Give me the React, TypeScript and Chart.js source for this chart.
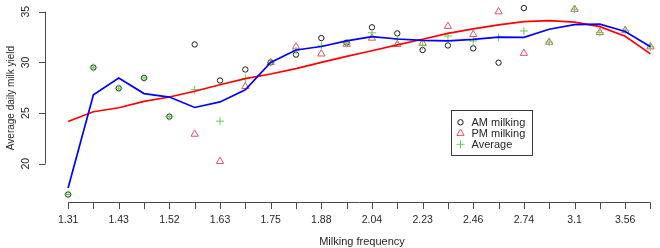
import React, { useEffect, useRef } from "react";
import { Chart, registerables } from "chart.js";
import { drawPoint } from "chart.js/helpers";

Chart.register(...registerables);

// Milking frequency classes (evenly spaced on the axis); every other one is labelled
const frequencies = [
  "1.31", "1.37", "1.43", "1.47", "1.52", "1.57", "1.63", "1.69", "1.75", "1.81", "1.88", "1.96",
  "2.04", "2.13", "2.23", "2.34", "2.46", "2.59", "2.74", "2.91", "3.1", "3.31", "3.56", "3.85",
];

const yTicks = [20, 25, 30, 35];

// null = no record for that milking in the class
const amMilking = [
  16.96, 29.49, 27.44, 28.46, 24.65, 31.77, 28.21, 29.3, 30.0, 30.77, 32.4, 31.95,
  33.46, 32.86, 31.22, 31.67, 31.38, 29.97, 35.36, null, null, null, null, null,
];

const pmMilking = [
  null, null, null, null, null, 22.92, 20.23, 27.63, 30.0, 31.54, 30.84, 31.8,
  32.4, 31.77, 31.9, 33.56, 32.76, 35.0, 30.9, 32.0, 35.25, 32.95, 33.17, 31.54,
];

const averageMilking = [
  16.96, 29.49, 27.44, 28.46, 24.65, 27.3, 24.2, 28.43, 30.0, 31.15, 31.63, 31.88,
  32.92, 32.3, 31.67, 32.6, 32.12, 32.47, 33.1, 32.0, 35.25, 32.95, 33.17, 31.54,
];

// Smoothed curves through the average yield
const smoothBlue = [
  17.6, 26.8, 28.46, 26.92, 26.58, 25.55, 26.1, 27.3, 30.0, 31.22, 31.57, 32.12,
  32.54, 32.31, 32.18, 32.12, 32.28, 32.5, 32.47, 33.27, 33.72, 33.78, 33.05, 31.54,
];

const trendRed = [
  24.17, 25.13, 25.52, 26.15, 26.58, 27.15, 27.79, 28.4, 28.85, 29.39, 30.0, 30.6,
  31.15, 31.73, 32.28, 32.86, 33.3, 33.7, 34.02, 34.13, 33.97, 33.53, 32.58, 30.84,
];

const FONT = '"Liberation Sans", Arial, Helvetica, sans-serif';
const AXIS_COLOR = "#4a4a4a";
const TEXT_COLOR = "#262626";

const toXY = (values: (number | null)[]) => values.map((v, i) => ({ x: i, y: v }));

// R-style axes, titles and boxed legend
const baseGraphics = {
  id: "baseGraphics",
  afterDraw(chart: any) {
    const { ctx, chartArea, scales } = chart;
    const xs = scales.x;
    const ys = scales.y;
    ctx.save();
    ctx.strokeStyle = AXIS_COLOR;
    ctx.lineWidth = 1;
    ctx.fillStyle = TEXT_COLOR;

    // x axis
    const xb = Math.round(chartArea.bottom) + 0.5;
    ctx.beginPath();
    ctx.moveTo(xs.getPixelForValue(0), xb);
    ctx.lineTo(xs.getPixelForValue(frequencies.length - 1), xb);
    frequencies.forEach((_, i) => {
      const px = Math.round(xs.getPixelForValue(i)) + 0.5;
      ctx.moveTo(px, xb);
      ctx.lineTo(px, xb + 6.5);
    });
    ctx.stroke();
    ctx.font = `10.5px ${FONT}`;
    ctx.textAlign = "center";
    ctx.textBaseline = "middle";
    frequencies.forEach((f, i) => {
      if (i % 2 === 0) ctx.fillText(f, xs.getPixelForValue(i), 220.5);
    });
    ctx.font = `11px ${FONT}`;
    ctx.fillText("Milking frequency", 362, 241.5);

    // y axis
    const yl = Math.round(chartArea.left) + 0.5;
    ctx.beginPath();
    ctx.moveTo(yl, ys.getPixelForValue(yTicks[0]));
    ctx.lineTo(yl, ys.getPixelForValue(yTicks[yTicks.length - 1]));
    yTicks.forEach((t) => {
      const py = Math.round(ys.getPixelForValue(t)) + 0.5;
      ctx.moveTo(yl, py);
      ctx.lineTo(yl - 6.5, py);
    });
    ctx.stroke();
    ctx.font = `10.5px ${FONT}`;
    yTicks.forEach((t) => {
      ctx.save();
      ctx.translate(26.5, ys.getPixelForValue(t));
      ctx.rotate(-Math.PI / 2);
      ctx.fillText(String(t), 0, 0);
      ctx.restore();
    });
    ctx.save();
    ctx.font = `10px ${FONT}`;
    ctx.translate(11.5, 98);
    ctx.rotate(-Math.PI / 2);
    ctx.fillText("Average daily milk yield", 0, 0);
    ctx.restore();

    // legend box
    const box = { left: 451.5, top: 110.5, right: 532.5, bottom: 155.5 };
    ctx.strokeStyle = "#3a3a3a";
    ctx.strokeRect(box.left, box.top, box.right - box.left, box.bottom - box.top);
    ctx.font = `11px ${FONT}`;
    ctx.textAlign = "left";
    const legendSets = chart.data.datasets.filter((d: any) => d.inLegend);
    legendSets.forEach((d: any, k: number) => {
      const cy = 122.3 + k * 11;
      ctx.strokeStyle = d.borderColor;
      ctx.fillStyle = "rgba(0,0,0,0)";
      ctx.lineWidth = 1;
      drawPoint(ctx, { pointStyle: d.pointStyle, radius: d.pointRadius, rotation: 0, borderWidth: 1 }, 460.5, cy);
      ctx.fillStyle = TEXT_COLOR;
      ctx.fillText(d.label, 471.5, cy + 0.5);
    });
    ctx.restore();
  },
};

export default function App() {
  const canvasRef = useRef<HTMLCanvasElement | null>(null);

  useEffect(() => {
    const canvas = canvasRef.current;
    if (!canvas) return;
    const pointSet = (label: string, values: (number | null)[], color: string, style: string, radius: number, order: number) => ({
      type: "scatter" as const,
      label,
      data: toXY(values),
      showLine: false,
      pointStyle: style,
      pointRadius: radius,
      pointBorderWidth: 1,
      borderColor: color,
      pointBorderColor: color,
      backgroundColor: "rgba(0,0,0,0)",
      pointBackgroundColor: "rgba(0,0,0,0)",
      order,
      clip: false,
      inLegend: true,
    });
    const lineSet = (label: string, values: number[], color: string, order: number) => ({
      type: "line" as const,
      label,
      data: toXY(values),
      borderColor: color,
      borderWidth: 1.7,
      pointRadius: 0,
      fill: false,
      tension: 0,
      order,
      clip: false,
      inLegend: false,
    });

    const chart = new Chart(canvas, {
      type: "scatter",
      data: {
        datasets: [
          pointSet("AM milking", amMilking, "#1a1a1a", "circle", 2.7, 5),
          pointSet("PM milking", pmMilking, "#DF536B", "triangle", 4.2, 4),
          pointSet("Average", averageMilking, "#61D04F", "cross", 4, 3),
          lineSet("Smoothed", smoothBlue, "#0000FF", 1),
          lineSet("Trend", trendRed, "#FF0000", 2),
        ] as any,
      },
      options: {
        animation: false,
        responsive: false,
        devicePixelRatio: 1,
        layout: { padding: { left: 45, top: 0, right: 0, bottom: 46.3 } },
        scales: {
          x: { type: "linear", min: -0.912, max: 23.17, display: false },
          y: { type: "linear", min: 16.25, max: 35.644, display: false },
        },
        plugins: { legend: { display: false }, tooltip: { enabled: false } },
      },
      plugins: [baseGraphics],
    });
    return () => chart.destroy();
  }, []);

  return (
    <div style={{ position: "fixed", left: 0, top: 0, width: 660, height: 248, background: "#fff" }}>
      <canvas ref={canvasRef} width={660} height={248} style={{ width: 660, height: 248, display: "block" }} />
    </div>
  );
}
